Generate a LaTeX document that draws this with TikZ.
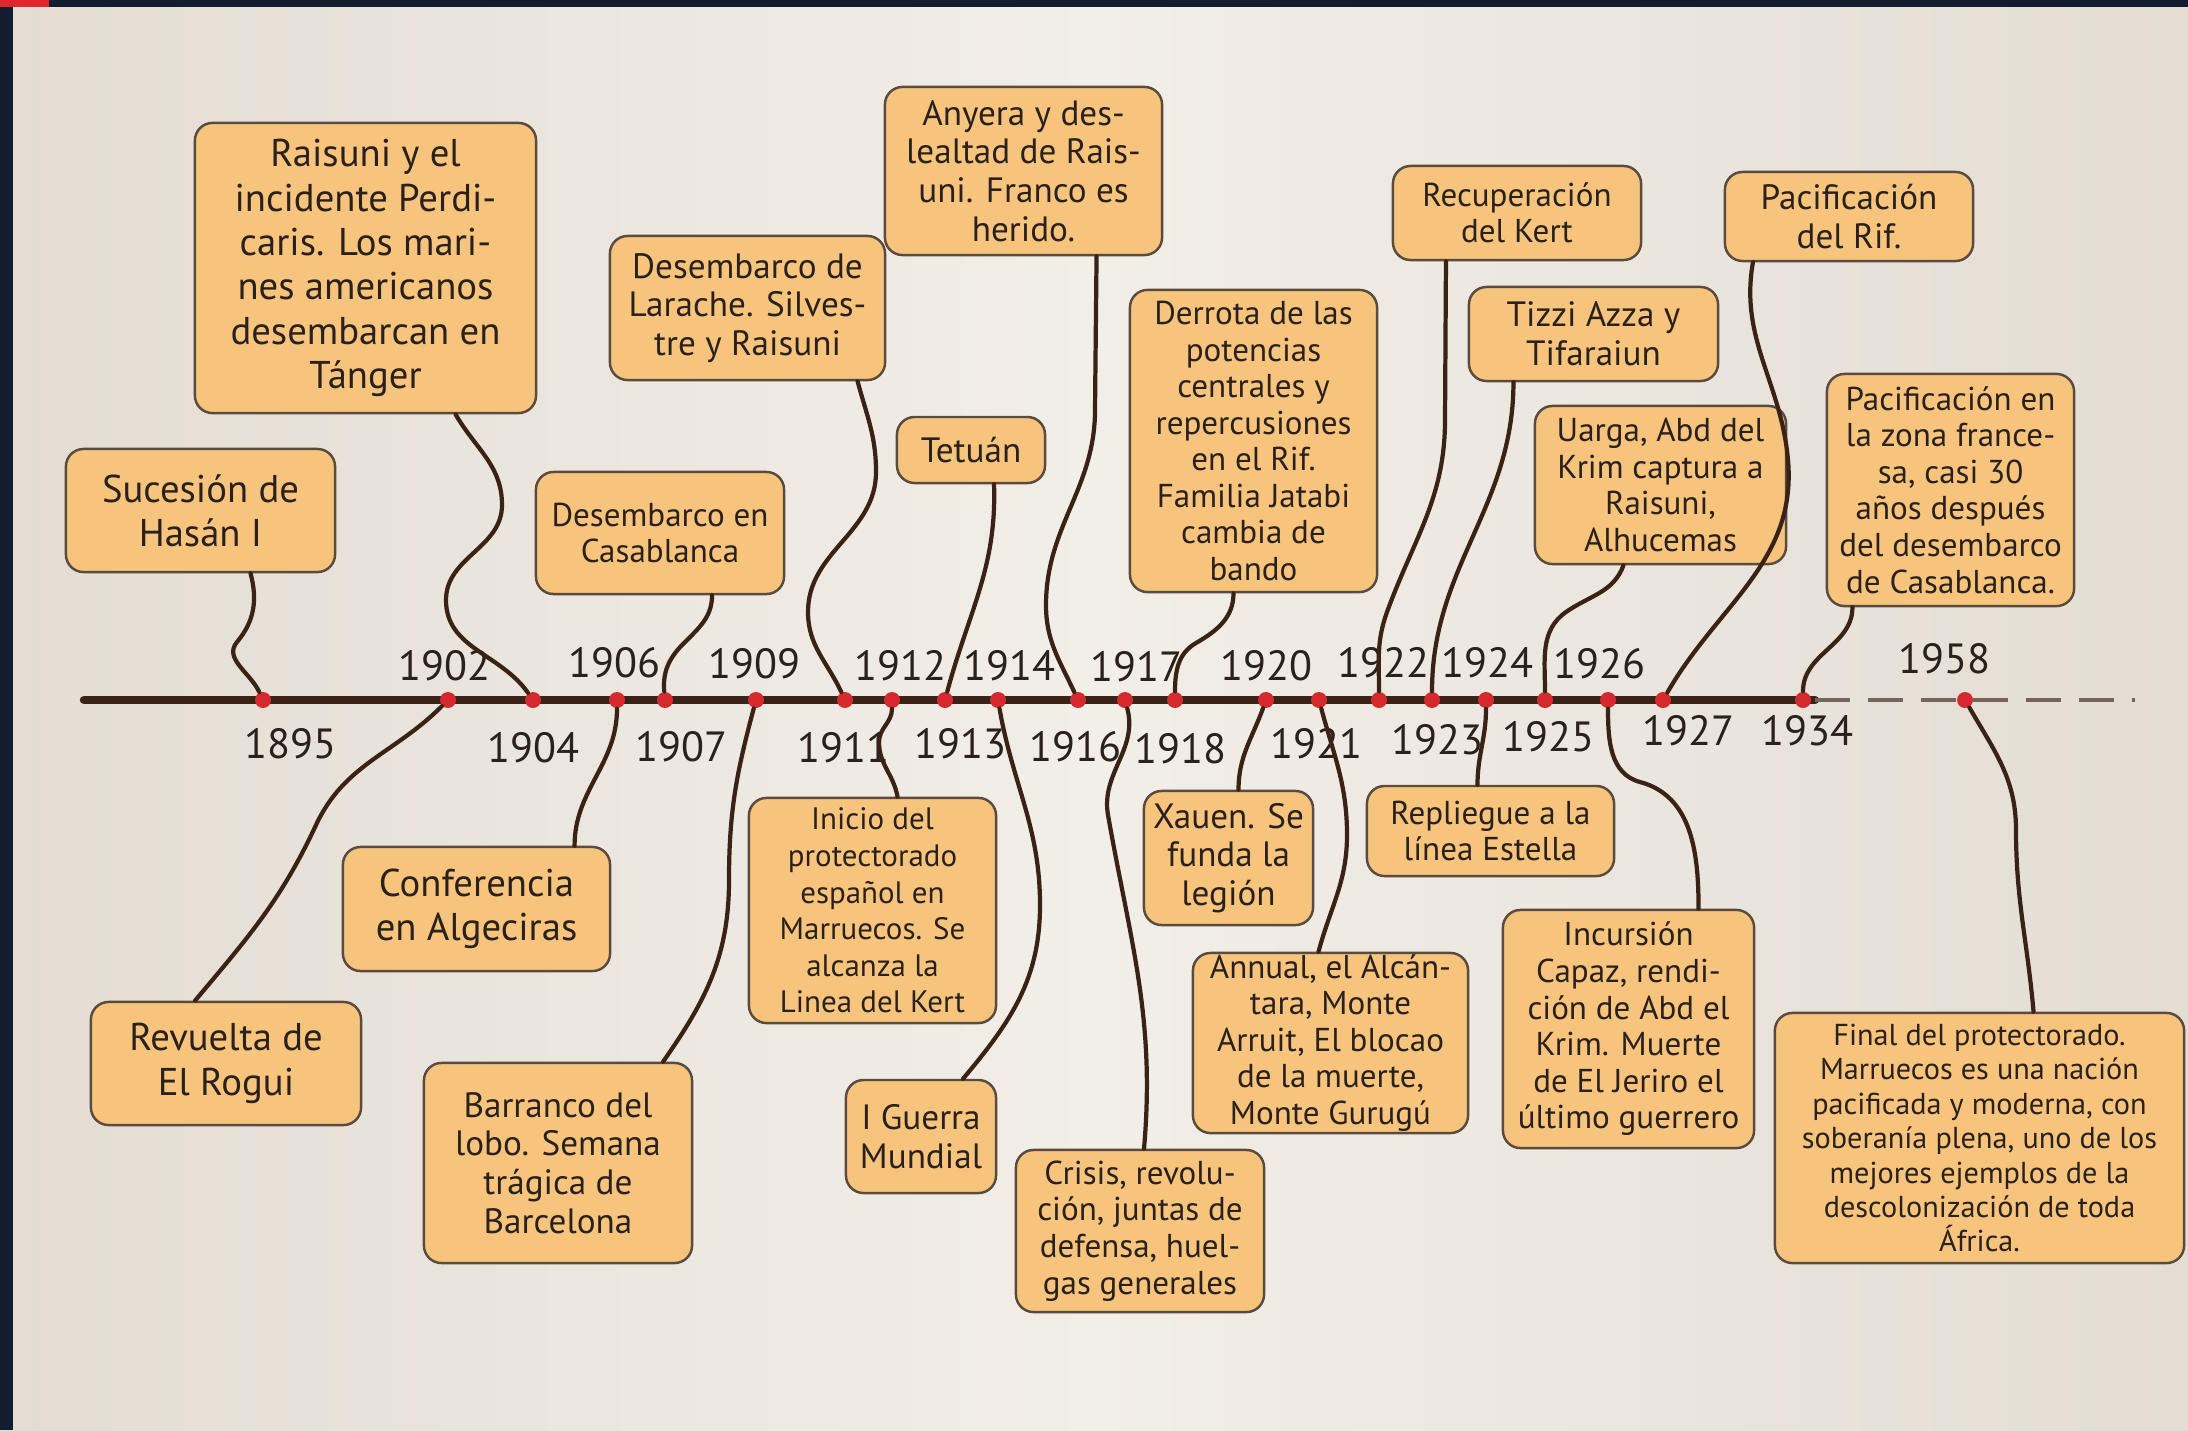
\documentclass[tikz,border=0pt]{standalone}
\usepackage{fontspec}
\setmainfont{PT Sans}
\definecolor{parchment}{HTML}{EBE6DD}
\definecolor{parchlight}{HTML}{F2EEE8}
\definecolor{parchdark}{HTML}{E3DDD3}
\definecolor{navyframe}{HTML}{121E30}
\definecolor{cornerred}{HTML}{E0282C}
\definecolor{boxfill}{HTML}{F6C47C}
\definecolor{boxline}{HTML}{5B4B3E}
\definecolor{inkbrown}{HTML}{3A2216}
\definecolor{dotred}{HTML}{D42A2E}
\definecolor{inktext}{HTML}{2A211C}
\newcommand{\fontL}{\fontsize{11}{12.6}\selectfont}
\newcommand{\fontM}{\fontsize{10}{11}\selectfont}
\newcommand{\fontS}{\fontsize{9.4}{10.4}\selectfont}
\newcommand{\fontXS}{\fontsize{8.6}{9.8}\selectfont}

\begin{document}
\begin{tikzpicture}[x=0.01cm,y=-0.01cm,
  evbox/.style={draw=boxline,line width=0.7pt,fill=boxfill,rounded corners=5pt,
    align=center,inner sep=0pt,text=inktext},
  sz/.style 2 args={minimum width=#1cm,minimum height=#2cm},
  link/.style={draw=inkbrown,line width=1.2pt,line cap=round},
  yeardot/.style={circle,fill=dotred,inner sep=0pt,minimum size=0.16cm},
  yearlbl/.style={font=\fontsize{12}{12}\selectfont,text=inktext}]
  % paper and frame
  \shade[left color=parchdark,right color=parchlight] (0,0) rectangle (1094,1430);
  \shade[left color=parchlight,right color=parchdark] (1094,0) rectangle (2188,1430);
  \fill[navyframe] (0,0) rectangle (2188,7);
  \fill[navyframe] (0,0) rectangle (13,1430);
  \fill[cornerred] (0,0) rectangle (49,7);
  \useasboundingbox (0,0) rectangle (2188,1430);

  % time axis
  \coordinate (axstart) at (84,700);
  \coordinate (axsolid) at (1815,700);
  \coordinate (axend) at (2135,700);
  \draw[inkbrown,line width=2.4pt,line cap=round] (axstart) -- (axsolid);
  \draw[inkbrown!70,line width=1pt,dash pattern=on 10pt off 5pt] (axsolid) -- (axend);

  \foreach \yr/\dx/\lx/\ly in {1895/263/290/744,1902/448/444/666,1904/533/533/748,
      1906/617/614/663,1907/665/681/747,1909/756/754/664,1911/845/843/748,
      1912/892/900/666,1913/945/960/744,1914/998/1009/666,1916/1078/1075/747,
      1917/1125/1136/667,1918/1175/1180/749,1920/1266/1266/666,1921/1319/1316/744,
      1922/1379/1383/663,1923/1432/1437/740,1924/1486/1487/663,1925/1545/1548/737,
      1926/1608/1599/664,1927/1663/1688/731,1934/1803/1807/731,1958/1965/1944/659}{
    \node[yeardot] (d\yr) at (\dx,700) {};
    \node[yearlbl] (y\yr) at (\lx,\ly) {\yr};
  }

  % events above the axis
  \node[evbox,sz={2.69}{1.23},font=\fontL] (sucesion) at (200.5,510.5) {Sucesión de\\Hasán I};
  \node[evbox,sz={3.41}{2.90},font=\fontL] (perdicaris) at (365.5,268) {Raisuni y el\\incidente Perdi-\\caris. Los mari-\\nes americanos\\desembarcan en\\Tánger};
  \node[evbox,sz={2.48}{1.22},font=\fontS] (casablanca) at (660,533) {Desembarco en\\Casablanca};
  \node[evbox,sz={2.75}{1.44},font=\fontM] (larache) at (747.5,308) {Desembarco de\\Larache. Silves-\\tre y Raisuni};
  \node[evbox,sz={1.48}{0.66},font=\fontM] (tetuan) at (971,450) {Tetuán};
  \node[evbox,sz={2.77}{1.68},font=\fontM] (anyera) at (1023.5,171) {Anyera y des-\\lealtad de Rais-\\uni. Franco es\\herido.};
  \node[evbox,sz={2.47}{3.02},font=\fontS] (derrota) at (1253.5,441) {Derrota de las\\potencias\\centrales y\\repercusiones\\en el Rif.\\Familia Jatabi\\cambia de\\bando};
  \node[evbox,sz={2.48}{0.94},font=\fontS] (kert) at (1517,213) {Recuperación\\del Kert};
  \node[evbox,sz={2.49}{0.94},font=\fontM] (tizzi) at (1593.5,334) {Tizzi Azza y\\Tifaraiun};
  \node[evbox,sz={2.51}{1.58},font=\fontS] (uarga) at (1660.5,485) {Uarga, Abd del\\Krim captura a\\Raisuni,\\Alhucemas};
  \node[evbox,sz={2.48}{0.89},font=\fontM] (pacrif) at (1849,216.5) {Pacificación\\del Rif.};
  \node[evbox,sz={2.47}{2.32},font=\fontS] (paczona) at (1950.5,490) {Pacificación en\\la zona france-\\sa, casi 30\\años después\\del desembarco\\de Casablanca.};

  % events below the axis
  \node[evbox,sz={2.70}{1.23},font=\fontL] (rogui) at (226,1063.5) {Revuelta de\\El Rogui};
  \node[evbox,sz={2.67}{1.24},font=\fontL] (algeciras) at (476.5,909) {Conferencia\\en Algeciras};
  \node[evbox,sz={2.68}{2.00},font=\fontM] (barranco) at (558,1163) {Barranco del\\lobo. Semana\\trágica de\\Barcelona};
  \node[evbox,sz={2.47}{2.25},font=\fontsize{8.8}{10.4}\selectfont] (inicio) at (872.5,910.5) {Inicio del\\protectorado\\español en\\Marruecos. Se\\alcanza la\\Linea del Kert};
  \node[evbox,sz={1.50}{1.13},font=\fontM] (guerra) at (921,1136.5) {I Guerra\\Mundial};
  \node[evbox,sz={2.48}{1.62},font=\fontS] (crisis) at (1140,1231) {Crisis, revolu-\\ción, juntas de\\defensa, huel-\\gas generales};
  \node[evbox,sz={1.69}{1.34},font=\fontM] (xauen) at (1228.5,858) {Xauen. Se\\funda la\\legión};
  \node[evbox,sz={2.75}{1.80},font=\fontS] (annual) at (1330.5,1043) {Annual, el Alcán-\\tara, Monte\\Arruit, El blocao\\de la muerte,\\Monte Gurugú};
  \node[evbox,sz={2.47}{0.90},font=\fontS] (repliegue) at (1490.5,831) {Repliegue a la\\línea Estella};
  \node[evbox,sz={2.51}{2.38},font=\fontS] (incursion) at (1628.5,1029) {Incursión\\Capaz, rendi-\\ción de Abd el\\Krim. Muerte\\de El Jeriro el\\último guerrero};
  \node[evbox,sz={4.09}{2.50},font=\fontXS] (final) at (1979.5,1138) {Final del protectorado.\\Marruecos es una nación\\pacificada y moderna, con\\soberanía plena, uno de los\\mejores ejemplos de la\\descolonización de toda\\África.};

  % wavy leader lines
  \draw[link] ([xshift=5mm]sucesion.south) to[out=-75,in=50] (237,642) to[out=-130,in=115] (d1895);
  \draw[link] ([xshift=9mm]perdicaris.south) to[out=-60,in=90] (502,505) to[out=-90,in=90] (446,600) to[out=-90,in=125] (d1904);
  \draw[link] ([xshift=5.2mm]casablanca.south) to[out=-90,in=45] (684,643) to[out=-135,in=95] (d1907);
  \draw[link] ([xshift=11mm]larache.south) to[out=-75,in=90] (876,472) to[out=-90,in=90] (808,612) to[out=-90,in=115] (d1911);
  \draw[link] ([xshift=2.3mm]tetuan.south) to[out=-88,in=75] (d1913);
  \draw[link] ([xshift=7.3mm]anyera.south) -- (1095,410) to[out=-90,in=90] (1046,605) to[out=-90,in=115] (d1916);
  \draw[link] ([xshift=-2mm]derrota.south) to[out=-90,in=30] (1196,643) to[out=-150,in=90] (d1918);
  \draw[link] ([xshift=-7.1mm]kert.south) -- (1445,420) to[out=-90,in=70] (1387,612) to[out=-110,in=90] (d1922);
  \draw[link] ([xshift=-8mm]tizzi.south) to[out=-90,in=90] (d1923);
  \draw[link] ([xshift=-3.7mm]uarga.south) to[out=-110,in=35] (1566,612) to[out=-145,in=90] (d1925);
  \draw[link] ([xshift=-9.6mm]pacrif.south) to[out=-100,in=95] (1788,460) to[out=-85,in=60] (d1927);
  \draw[link] ([xshift=-9.8mm]paczona.south) to[out=-90,in=90] (d1934);
  \draw[link] ([xshift=-3.1mm]rogui.north) to[out=50,in=-115] (316,825) to[out=65,in=-135] (d1902);
  \draw[link] ([xshift=9.8mm]algeciras.north) to[out=90,in=-90] (d1906);
  \draw[link] ([xshift=10.5mm]barranco.north) to[out=55,in=-90] (729,880) to[out=90,in=-105] (d1909);
  \draw[link] ([xshift=2.5mm]inicio.north) to[out=100,in=-90] (879,742) to[out=90,in=-90] (d1912);
  \draw[link] ([xshift=4.2mm]guerra.north) to[out=50,in=-90] (1040,905) to[out=90,in=-80] (d1914);
  \draw[link] ([xshift=0.4mm]crisis.north) to[out=85,in=-80] (1108,815) to[out=100,in=-75] (d1917);
  \draw[link] ([xshift=1mm]xauen.north) to[out=90,in=-110] (d1920);
  \draw[link] ([xshift=-1.2mm]annual.north) to[out=75,in=-90] (1347,835) to[out=90,in=-75] (d1921);
  \draw[link] ([xshift=-1.3mm]repliegue.north) to[out=90,in=-90] (d1924);
  \draw[link] ([xshift=7mm]incursion.north) to[out=90,in=-15] (1640,782) to[out=165,in=-90] (d1926);
  \draw[link] ([xshift=5.4mm]final.north) to[out=95,in=-90] (2016,830) to[out=90,in=-60] (d1958);
\end{tikzpicture}
\end{document}
